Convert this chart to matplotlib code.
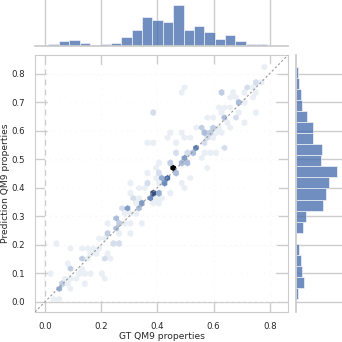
import colorsys

import matplotlib
matplotlib.use("Agg")
import matplotlib.pyplot as plt
import numpy as np
import seaborn as sns
from matplotlib.colors import LinearSegmentedColormap, to_rgb

sns.set_theme(style="whitegrid")
plt.rcParams["font.family"] = ["DejaVu Sans"]

# hex cells: centre (gt, pred) and number of molecules
gt = [
    0.036, 0.048, 0.050, 0.066, 0.084, 0.096, 0.143,
    0.012, 0.084, 0.108, 0.098, 0.119, 0.143, 0.167, 0.209, 0.215,
    0.084, 0.137, 0.221, 0.233,
    0.042, 0.093, 0.122, 0.161, 0.244, 0.221, 0.257, 0.251,
    0.400, 0.412, 0.376, 0.370, 0.350, 0.335, 0.323, 0.388, 0.400, 0.418,
    0.347, 0.329, 0.305, 0.299, 0.287, 0.311, 0.323, 0.275, 0.263, 0.299,
    0.257, 0.275, 0.352, 0.299, 0.227, 0.233, 0.257, 0.263, 0.245, 0.173,
    0.179, 0.227, 0.215, 0.155,
    0.464, 0.454, 0.466, 0.538, 0.490, 0.502, 0.436, 0.442, 0.430, 0.418,
    0.406, 0.394, 0.478, 0.508, 0.525, 0.567, 0.573, 0.585, 0.538, 0.579,
    0.573, 0.490, 0.448, 0.412, 0.496, 0.394,
    0.645, 0.681, 0.693, 0.681, 0.693, 0.741, 0.759, 0.729, 0.747, 0.771,
    0.639, 0.627, 0.645, 0.621, 0.597, 0.585, 0.549, 0.561, 0.573, 0.603,
    0.645, 0.753, 0.620, 0.660,
    0.777, 0.753, 0.741, 0.723, 0.711, 0.687, 0.700,
    0.490, 0.484, 0.382, 0.376, 0.364, 0.388, 0.448, 0.490, 0.633, 0.633,
    0.663, 0.270,
    0.561, 0.609, 0.526, 0.454, 0.394, 0.364, 0.466, 0.442, 0.478, 0.520,
    0.329, 0.621, 0.711, 0.663, 0.299, 0.215, 0.197,
    0.520, 0.550, 0.600, 0.620, 0.660, 0.690, 0.720, 0.600, 0.640, 0.570,
    0.470, 0.400, 0.360, 0.310, 0.280, 0.220, 0.190, 0.160, 0.130, 0.070,
]
pred = [
    0.006, 0.006, 0.053, 0.065, 0.059, 0.047, 0.053,
    0.096, 0.076, 0.082, 0.111, 0.105, 0.094, 0.094, 0.094, 0.080,
    0.140, 0.150, 0.152, 0.152,
    0.211, 0.197, 0.181, 0.193, 0.199, 0.240, 0.258, 0.298,
    0.427, 0.415, 0.386, 0.368, 0.348, 0.339, 0.351, 0.357, 0.345, 0.363,
    0.392, 0.404, 0.421, 0.328, 0.322, 0.316, 0.304, 0.304, 0.293, 0.281,
    0.269, 0.269, 0.269, 0.240, 0.246, 0.234, 0.205, 0.199, 0.199, 0.181,
    0.175, 0.164, 0.152, 0.152,
    0.474, 0.462, 0.456, 0.547, 0.503, 0.491, 0.445, 0.439, 0.425, 0.433,
    0.392, 0.386, 0.486, 0.515, 0.530, 0.585, 0.561, 0.567, 0.608, 0.521,
    0.462, 0.404, 0.386, 0.491, 0.573, 0.345,
    0.649, 0.655, 0.667, 0.702, 0.708, 0.725, 0.737, 0.749, 0.772, 0.778,
    0.731, 0.743, 0.620, 0.614, 0.608, 0.591, 0.608, 0.620, 0.526, 0.526,
    0.532, 0.673, 0.660, 0.690,
    0.825, 0.766, 0.760, 0.743, 0.731, 0.719, 0.700,
    0.754, 0.737, 0.661, 0.667, 0.556, 0.561, 0.591, 0.600, 0.532, 0.737,
    0.737, 0.240,
    0.602, 0.591, 0.526, 0.480, 0.468, 0.445, 0.550, 0.573, 0.421, 0.427,
    0.363, 0.679, 0.632, 0.708, 0.374, 0.216, 0.193,
    0.580, 0.500, 0.570, 0.590, 0.620, 0.640, 0.700, 0.640, 0.690, 0.640,
    0.520, 0.450, 0.410, 0.360, 0.330, 0.270, 0.220, 0.170, 0.120, 0.090,
]
count = [
    1, 1, 5, 3, 1, 1, 1,
    1, 1, 1, 3, 1, 1, 1, 1, 1,
    1, 3, 1, 1,
    1, 1, 1, 1, 1, 1, 4, 1,
    1, 1, 7, 7, 6, 4, 1, 1, 1, 1,
    1, 1, 1, 4, 2, 1, 1, 1, 3, 1,
    3, 1, 1, 1, 1, 1, 1, 1, 1, 1,
    1, 1, 1, 1,
    10, 7, 4, 8, 6, 4, 5, 4, 7, 5,
    5, 4, 4, 2, 2, 4, 2, 2, 1, 1,
    1, 1, 1, 1, 1, 1,
    4, 1, 1, 2, 1, 1, 1, 1, 1, 1,
    1, 1, 1, 1, 3, 3, 1, 1, 1, 1,
    1, 1, 1, 1,
    1, 1, 1, 1, 1, 1, 1,
    1, 1, 1, 1, 1, 1, 1, 1, 1, 1,
    1, 1,
    1, 1, 2, 3, 1, 1, 1, 1, 1, 1,
    1, 1, 1, 1, 1, 1, 1,
    1, 1, 1, 1, 1, 1, 1, 1, 1, 1,
    2, 2, 2, 2, 2, 1, 1, 1, 1, 1,
]

# marginal histograms (bar heights)
gt_bin_start, gt_bin_width = 0.012, 0.037
gt_hist = [5, 13, 17, 9, 2, 4, 9, 25, 46, 85, 76, 71, 123, 46, 58, 42, 21, 31, 15, 6, 6]
pred_bin_start, pred_bin_width = 0.010, 0.0387
pred_hist = [6, 25, 19, 15, 9, 0, 22, 29, 81, 90, 99, 124, 74, 79, 52, 51, 32, 19, 16, 10, 5]

lims = (-0.036, 0.865)
data_extent = (0.010, 0.822, 0.010, 0.822)

# seaborn-like hex colormap: white -> C0 hue -> black
base = to_rgb("#4C72B0")
h, l, s = colorsys.rgb_to_hls(*base)
cmap = LinearSegmentedColormap.from_list(
    "hexblue", [colorsys.hls_to_rgb(h, v, s) for v in np.linspace(1, 0, 12)]
)

fig = plt.figure(figsize=(3.42, 3.42), dpi=100)
ax = fig.add_axes([0.1023, 0.0877, 0.7398, 0.7515])
ax_top = fig.add_axes([0.1023, 0.8664, 0.7398, 0.1336], sharex=ax)
ax_right = fig.add_axes([0.8655, 0.0877, 0.1345, 0.7515], sharey=ax)

ax.hexbin(
    gt, pred, C=count, reduce_C_function=np.sum, mincnt=0,
    gridsize=40, extent=data_extent, cmap=cmap, linewidths=0.2, edgecolors="face",
)
ax.axline((0, 0), slope=1, color="0.6", ls=(0, (2, 2)), lw=0.8, zorder=5)
ax.set_xlim(lims)
ax.set_ylim(lims)
ax.set_xticks([0.0, 0.2, 0.4, 0.6, 0.8])
ax.set_yticks(np.arange(0, 0.81, 0.1))
ax.set_xlabel("GT QM9 properties", fontsize=6.6, labelpad=1)
ax.set_ylabel("Prediction QM9 properties", fontsize=6.6, labelpad=1.5)
ax.tick_params(labelsize=6.2, pad=1)
for sp in ax.spines.values():
    sp.set_linewidth(0.8)

bar_kw = dict(color="#4C72B0", alpha=0.8, edgecolor="white", linewidth=0.5)
gt_edges = gt_bin_start + gt_bin_width * np.arange(len(gt_hist))
ax_top.bar(gt_edges, gt_hist, width=gt_bin_width, align="edge", **bar_kw)
pred_edges = pred_bin_start + pred_bin_width * np.arange(len(pred_hist))
ax_right.barh(pred_edges, pred_hist, height=pred_bin_width, align="edge", **bar_kw)

ax_top.set_ylim(0, 137)
ax_right.set_xlim(0, 138)
for a in (ax_top, ax_right):
    a.tick_params(labelbottom=False, labelleft=False, length=0)
    a.set_xlabel("")
    a.set_ylabel("")
ax_top.grid(axis="y", visible=False)
ax_right.grid(axis="x", visible=False)
for name in ("left", "top", "right"):
    ax_top.spines[name].set_visible(False)
for name in ("bottom", "top", "right"):
    ax_right.spines[name].set_visible(False)

fig.savefig("out.png", dpi=100)
